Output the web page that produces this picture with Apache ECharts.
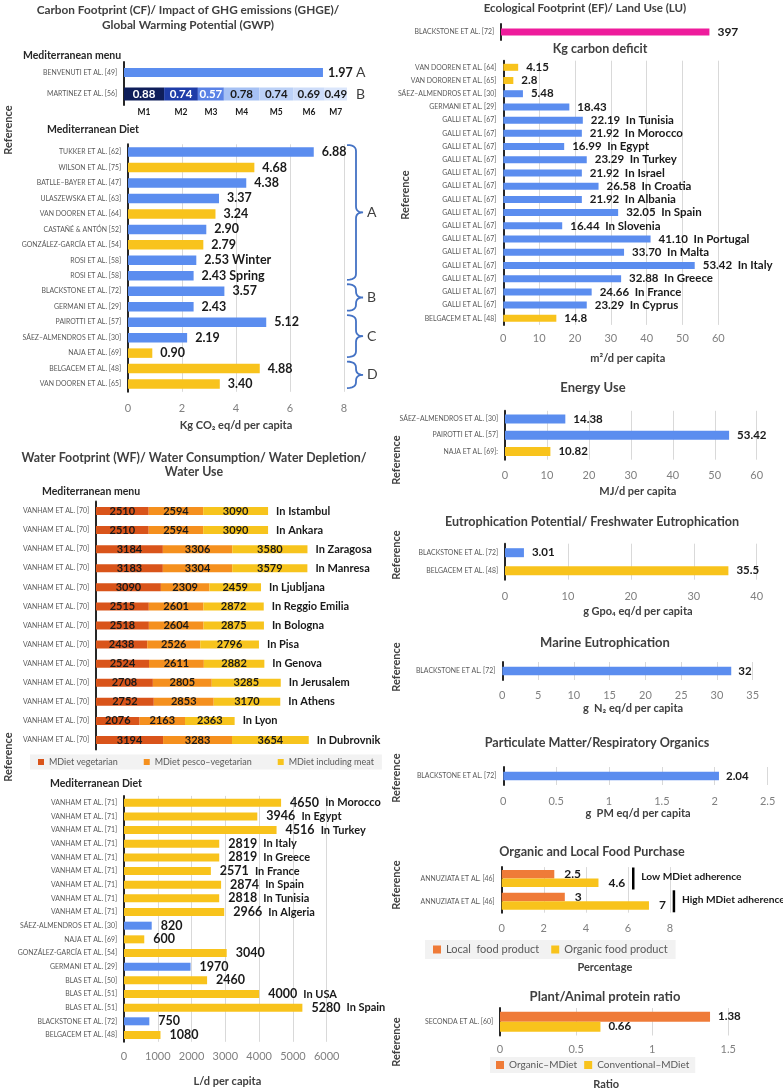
<!DOCTYPE html>
<html><head><meta charset="utf-8">
<script src="https://cdn.jsdelivr.net/npm/echarts@6/dist/echarts.min.js"></script>
<style>html,body{margin:0;padding:0;background:#fff}#c{width:783px;height:1091px}</style>
</head><body><div id="c"></div>
<script>
// ================= DATA =================
// Carbon footprint - Mediterranean menu
const cfMenuRefs = ['BENVENUTI ET AL. [49]'];
const cfMenuValues = ['1.97'];
const cfMenuGroup = ['A'];
const martinezRef = ['MARTINEZ ET AL. [56]'];
const martinezMenus = ['M1','M2','M3','M4','M5','M6','M7'];
const martinezValues = ['0.88','0.74','0.57','0.78','0.74','0.69','0.49'];
const martinezGroup = ['B'];
// Carbon footprint - Mediterranean diet
const cfDietRefs = ['TUKKER ET AL. [62]','WILSON ET AL. [75]','BATLLE–BAYER ET AL. [47]','ULASZEWSKA ET AL. [63]','VAN DOOREN ET AL. [64]','CASTAÑÉ & ANTÓN [52]','GONZÁLEZ-GARCÍA ET AL. [54]','ROSI ET AL. [58]','ROSI ET AL. [58]','BLACKSTONE ET AL. [72]','GERMANI ET AL. [29]','PAIROTTI ET AL. [57]','SÁEZ–ALMENDROS ET AL. [30]','NAJA ET AL. [69]','BELGACEM ET AL. [48]','VAN DOOREN ET AL. [65]'];
const cfDietValues = ['6.88','4.68','4.38','3.37','3.24','2.90','2.79','2.53','2.43','3.57','2.43','5.12','2.19','0.90','4.88','3.40'];
const cfDietNotes = ['','','','','','','','Winter','Spring','','','','','','',''];
const cfDietType = [1,2,1,1,2,1,2,1,1,1,1,1,1,2,2,2];
const cfDietGroups = ['A','A','A','A','A','A','A','A','A','B','B','C','C','C','D','D'];
const cfDietTicks = [0,2,4,6,8];
// Water footprint - Mediterranean menu
const wfMenuRefs = ['VANHAM ET AL. [70]','VANHAM ET AL. [70]','VANHAM ET AL. [70]','VANHAM ET AL. [70]','VANHAM ET AL. [70]','VANHAM ET AL. [70]','VANHAM ET AL. [70]','VANHAM ET AL. [70]','VANHAM ET AL. [70]','VANHAM ET AL. [70]','VANHAM ET AL. [70]','VANHAM ET AL. [70]','VANHAM ET AL. [70]'];
const wfMenuCities = ['In Istambul','In Ankara','In Zaragosa','In Manresa','In Ljubljana','In Reggio Emilia','In Bologna','In Pisa','In Genova','In Jerusalem','In Athens','In Lyon','In Dubrovnik'];
const wfVegetarian = [2510,2510,3184,3183,3090,2515,2518,2438,2524,2708,2752,2076,3194];
const wfPesco = [2594,2594,3306,3304,2309,2601,2604,2526,2611,2805,2853,2163,3283];
const wfMeat = [3090,3090,3580,3579,2459,2872,2875,2796,2882,3285,3170,2363,3654];
const wfMenuSeries = ['MDiet vegetarian','MDiet pesco–vegetarian','MDiet including meat'];
// Water footprint - Mediterranean diet
const wfDietRefs = ['VANHAM ET AL. [71]','VANHAM ET AL. [71]','VANHAM ET AL. [71]','VANHAM ET AL. [71]','VANHAM ET AL. [71]','VANHAM ET AL. [71]','VANHAM ET AL. [71]','VANHAM ET AL. [71]','VANHAM ET AL. [71]','SÁEZ-ALMENDROS ET AL. [30]','NAJA ET AL. [69]','GONZÁLEZ-GARCÍA ET AL. [54]','GERMANI ET AL. [29]','BLAS ET AL. [50]','BLAS ET AL. [51]','BLAS ET AL. [51]','BLACKSTONE ET AL. [72]','BELGACEM ET AL. [48]'];
const wfDietValues = [4650,3946,4516,2819,2819,2571,2874,2818,2966,820,600,3040,1970,2460,4000,5280,750,1080];
const wfDietNotes = ['In Morocco','In Egypt','In Turkey','In Italy','In Greece','In France','In Spain','In Tunisia','In Algeria','','','','','','In USA','In Spain','',''];
const wfDietType = [2,2,2,2,2,2,2,2,2,1,2,2,1,2,2,2,1,2];
const wfDietTicks = [0,1000,2000,3000,4000,5000,6000];
// Ecological footprint / land use
const efTopRefs = ['BLACKSTONE ET AL. [72]'];
const efTopValues = [397];
const efRefs = ['VAN DOOREN ET AL. [64]','VAN DOROREN ET AL. [65]','SÁEZ–ALMENDROS ET AL. [30]','GERMANI ET AL. [29]','GALLI ET AL. [67]','GALLI ET AL. [67]','GALLI ET AL. [67]','GALLI ET AL. [67]','GALLI ET AL. [67]','GALLI ET AL. [67]','GALLI ET AL. [67]','GALLI ET AL. [67]','GALLI ET AL. [67]','GALLI ET AL. [67]','GALLI ET AL. [67]','GALLI ET AL. [67]','GALLI ET AL. [67]','GALLI ET AL. [67]','GALLI ET AL. [67]','BELGACEM ET AL. [48]'];
const efValues = ['4.15','2.8','5.48','18.43','22.19','21.92','16.99','23.29','21.92','26.58','21.92','32.05','16.44','41.10','33.70','53.42','32.88','24.66','23.29','14.8'];
const efNotes = ['','','','','In Tunisia','In Morocco','In Egypt','In Turkey','In Israel','In Croatia','In Albania','In Spain','In Slovenia','In Portugal','In Malta','In Italy','In Greece','In France','In Cyprus',''];
const efType = [2,2,1,1,1,1,1,1,1,1,1,1,1,1,1,1,1,1,1,2];
const efTicks = [0,10,20,30,40,50,60];
// Energy use
const enRefs = ['SÁEZ–ALMENDROS ET AL. [30]','PAIROTTI ET AL. [57]','NAJA ET AL. [69]:'];
const enValues = [14.38,53.42,10.82];
const enType = [1,1,2];
const enTicks = [0,10,20,30,40,50,60];
// Eutrophication
const euRefs = ['BLACKSTONE ET AL. [72]','BELGACEM ET AL. [48]'];
const euValues = ['3.01','35.5'];
const euType = [1,2];
const euTicks = [0,10,20,30,40];
// Marine eutrophication
const meRefs = ['BLACKSTONE ET AL. [72]'];
const meValues = [32];
const meTicks = [0,5,10,15,20,25,30,35];
// Particulate matter
const pmRefs = ['BLACKSTONE ET AL. [72]'];
const pmValues = [2.04];
const pmTicks = [0,0.5,1,1.5,2,2.5];
// Organic and local food purchase
const orgRefs = ['ANNUZIATA ET AL. [46]','ANNUZIATA ET AL. [46]'];
const orgAdherence = ['Low MDiet adherence','High MDiet adherence'];
const orgSeries = ['Local  food product','Organic food product'];
const orgLocal = ['2.5','3'];
const orgOrganic = ['4.6','7'];
const orgTicks = [0,2,4,6,8];
// Plant / animal protein ratio
const ppRefs = ['SECONDA ET AL. [60]'];
const ppSeries = ['Organic–MDiet','Conventional–MDiet'];
const ppOrganic = ['1.38'];
const ppConventional = ['0.66'];
const ppTicks = [0,0.5,1,1.5];

// ================= STYLE / BUILD =================
const FONT = 'Lato, "Noto Sans", sans-serif';
const C = {blue:'#5b8def', yellow:'#f8c31c', orange:'#ef7b38', veg:'#d9541a', pesco:'#f5901e', meat:'#f7c41d', pink:'#ee1c9c',
  axis:'#262626', grid:'#d9d9d9', tick:'#808080', cat:'#595959', title:'#404040', label:'#1a1a1a', brace:'#4472c4'};
const typeColor = {1:C.blue, 2:C.yellow};
const mColors = ['#0f1e5a','#1e3ca8','#5a82e6','#a6c1f4','#bcd1f7','#cddcf9','#dbe6fb'];

const grids=[], xAxis=[], yAxis=[], series=[];
function panel(p){
  const gi = grids.length;
  grids.push({left:p.left, top:p.top, width:p.width, height:p.height});
  const t = p.ticks;
  const sh = p.nameShift || 0;
  xAxis.push({
    gridIndex:gi, type:'value', min:0, max: t ? t[t.length-1] : p.max, interval: t ? t[1]-t[0] : undefined,
    axisLine:{show:false}, axisTick:{show:false},
    axisLabel:{show:!!t, color:C.tick, fontSize:11, fontFamily:FONT, margin:p.tickMargin ?? 9, formatter: v => String(v)},
    splitLine:{show:!!t, lineStyle:{color:C.grid, width:1}},
    name:p.xName||'', nameLocation:'middle', nameGap:p.nameGap||0,
    nameTextStyle:{color:C.title, fontSize:p.nameSize||11, fontWeight:'bold', fontFamily:FONT,
      padding: sh>0 ? [0,0,0,2*sh] : (sh<0 ? [0,-2*sh,0,0] : 0)}
  });
  yAxis.push({gridIndex:gi, type:'category', inverse:true, data:p.cats,
    axisLine:{show:p.axisLine!==false, lineStyle:{color:C.axis, width:2}}, axisTick:{show:false},
    axisLabel:{show:p.cats.some(c=>c), interval:0, color:C.cat, fontSize:6.9, fontFamily:FONT, margin:7}
  });
  return gi;
}
function lbl(formatter, size, extra){
  return Object.assign({show:true, position:'right', distance:8, color:C.label, fontWeight:'bold', fontSize:size||12, fontFamily:FONT, formatter}, extra||{});
}
function richLbl(formatter, vSize, nSize, extra){
  return Object.assign(lbl(formatter, vSize), {rich:{
    v:{fontSize:vSize, fontWeight:'bold', fontFamily:FONT, color:C.label},
    n:{fontSize:nSize, fontWeight:'bold', fontFamily:FONT, color:C.label}}}, extra||{});
}
const colored = (vals, types) => vals.map((v,i)=>({value:+v, itemStyle:{color:typeColor[types[i]]}}));

// CF menu
const g0 = panel({cats:cfMenuRefs, left:124, top:62, width:202, height:21, max:2});
series.push({type:'bar', xAxisIndex:g0, yAxisIndex:g0, barWidth:9, data:cfMenuValues.map(Number), itemStyle:{color:C.blue},
  label:lbl(p=>cfMenuValues[p.dataIndex], 12.5, {distance:5})});
const g1 = panel({cats:martinezRef, left:124, top:83, width:228, height:22, max:5});
const g2 = panel({cats:[''], left:124, top:104, width:228, height:16, max:5, axisLine:false});
martinezMenus.forEach((m,i)=>{
  series.push({type:'bar', stack:'mar', xAxisIndex:g1, yAxisIndex:g1, barWidth:13, data:[+martinezValues[i]], itemStyle:{color:mColors[i]},
    label:lbl(martinezValues[i], 11.5, {position:'inside', color: i<3 ? '#ffffff' : C.label})});
  series.push({type:'bar', stack:'mlab', xAxisIndex:g2, yAxisIndex:g2, barWidth:10, data:[+martinezValues[i]], itemStyle:{color:'rgba(0,0,0,0)'},
    silent:true, label:lbl(m, 8.5, {position:'inside', color:C.label})});
});
// CF diet
const g3 = panel({cats:cfDietRefs, left:128, top:144.3, width:216, height:247.5, ticks:cfDietTicks,
  xName:'Kg CO₂ eq/d per capita', nameGap:27.7, tickMargin:10.7});
series.push({type:'bar', xAxisIndex:g3, yAxisIndex:g3, barWidth:9.5, data:colored(cfDietValues, cfDietType),
  label:lbl(p=>cfDietValues[p.dataIndex] + (cfDietNotes[p.dataIndex] ? ' ' + cfDietNotes[p.dataIndex] : ''), 12.5)});
// Water menu
const g4 = panel({cats:wfMenuRefs, left:96, top:501.5, width:294, height:248, max:14000});
[[wfMenuSeries[0], wfVegetarian, C.veg],[wfMenuSeries[1], wfPesco, C.pesco],[wfMenuSeries[2], wfMeat, C.meat]].forEach(([name, vals, col])=>{
  series.push({name, type:'bar', stack:'wf', xAxisIndex:g4, yAxisIndex:g4, barWidth:8, data:vals, itemStyle:{color:col},
    label:lbl('{c}', 11, {position:'inside'})});
});
series.push({type:'bar', stack:'wf', xAxisIndex:g4, yAxisIndex:g4, barWidth:8, silent:true, data:wfMenuCities.map(()=>0),
  itemStyle:{color:'rgba(0,0,0,0)'}, label:lbl(p=>wfMenuCities[p.dataIndex], 11, {distance:8})});
// Water diet
const g5 = panel({cats:wfDietRefs, left:124, top:795.9, width:202.7, height:245.9, ticks:wfDietTicks,
  xName:'L/d per capita', nameGap:33.7, tickMargin:8.7, nameShift:2});
series.push({type:'bar', xAxisIndex:g5, yAxisIndex:g5, barWidth:8, data:colored(wfDietValues, wfDietType),
  label:richLbl(p=>'{v|'+wfDietValues[p.dataIndex]+'}' + (wfDietNotes[p.dataIndex] ? '  {n|'+wfDietNotes[p.dataIndex]+'}' : ''), 12.5, 11, {distance:9})});
// EF top
const g6 = panel({cats:efTopRefs, left:501, top:24, width:210, height:16, max:400, xName:'Kg carbon deficit', nameGap:2.5, nameSize:12.5, nameShift:-6});
series.push({type:'bar', xAxisIndex:g6, yAxisIndex:g6, barWidth:7, data:efTopValues, itemStyle:{color:C.pink}, label:lbl('{c}', 12, {distance:8})});
// EF main
const g7 = panel({cats:efRefs, left:503.3, top:60.7, width:215, height:264.2, ticks:efTicks,
  xName:'m²/d per capita', nameGap:27.6, tickMargin:7.6, nameShift:17});
series.push({type:'bar', xAxisIndex:g7, yAxisIndex:g7, barWidth:7, data:colored(efValues, efType),
  label:richLbl(p=>'{v|'+efValues[p.dataIndex]+'}' + (efNotes[p.dataIndex] ? '  {n|'+efNotes[p.dataIndex]+'}' : ''), 11.5, 11.5, {distance:8})});
// Energy
const g8 = panel({cats:enRefs, left:505, top:410.8, width:251.7, height:48.9, ticks:enTicks,
  xName:'MJ/d per capita', nameGap:26.5, tickMargin:9.8, nameShift:7});
series.push({type:'bar', xAxisIndex:g8, yAxisIndex:g8, barWidth:9, data:colored(enValues, enType), label:lbl('{c}', 11.5, {distance:8})});
// Eutrophication
const g9 = panel({cats:euRefs, left:505, top:543.7, width:251.7, height:36, ticks:euTicks,
  xName:'g Gpo₄ eq/d per capita', nameGap:26.5, tickMargin:10.8, nameShift:7});
series.push({type:'bar', xAxisIndex:g9, yAxisIndex:g9, barWidth:9, data:colored(euValues, euType), label:lbl(p=>euValues[p.dataIndex], 11.5, {distance:8})});
// Marine
const g10 = panel({cats:meRefs, left:502.3, top:662, width:250.4, height:18, ticks:meTicks,
  xName:'g  N₂ eq/d per capita', nameGap:22.8, tickMargin:9.5, nameShift:5.5});
series.push({type:'bar', xAxisIndex:g10, yAxisIndex:g10, barWidth:8.5, data:meValues, itemStyle:{color:C.blue}, label:lbl('{c}', 11.5, {distance:7})});
// PM
const g11 = panel({cats:pmRefs, left:503.3, top:767, width:264.3, height:18, ticks:pmTicks,
  xName:'g  PM eq/d per capita', nameGap:22.8, tickMargin:11.2, nameShift:2.6});
series.push({type:'bar', xAxisIndex:g11, yAxisIndex:g11, barWidth:8.5, data:pmValues, itemStyle:{color:C.blue}, label:lbl('{c}', 11.5, {distance:7})});
// Organic / local
const g12 = panel({cats:orgRefs, left:501.7, top:867.1, width:168.3, height:45.6, ticks:orgTicks,
  xName:'Percentage', nameGap:49, tickMargin:10.1, nameShift:19});
series.push({name:orgSeries[0], type:'bar', xAxisIndex:g12, yAxisIndex:g12, barWidth:8.5, barGap:'0%', data:orgLocal.map(Number), itemStyle:{color:C.orange},
  label:lbl(p=>orgLocal[p.dataIndex], 12, {distance:10})});
series.push({name:orgSeries[1], type:'bar', xAxisIndex:g12, yAxisIndex:g12, barWidth:8.5, barGap:'0%', data:orgOrganic.map(Number), itemStyle:{color:C.yellow},
  label:lbl(p=>orgOrganic[p.dataIndex], 12, {distance:10})});
// Plant / animal
const g13 = panel({cats:ppRefs, left:500, top:1008, width:228.3, height:28, ticks:ppTicks,
  xName:'Ratio', nameGap:43.5, tickMargin:8.5, nameShift:-8});
series.push({name:ppSeries[0], type:'bar', xAxisIndex:g13, yAxisIndex:g13, barWidth:10, barGap:'0%', data:ppOrganic.map(Number), itemStyle:{color:C.orange},
  label:lbl(p=>ppOrganic[p.dataIndex], 11.5, {distance:8})});
series.push({name:ppSeries[1], type:'bar', xAxisIndex:g13, yAxisIndex:g13, barWidth:10, barGap:'0%', data:ppConventional.map(Number), itemStyle:{color:C.yellow},
  label:lbl(p=>ppConventional[p.dataIndex], 11.5, {distance:8})});

const legendBase = {icon:'rect', selectedMode:false, backgroundColor:'#f2f2f2', orient:'horizontal'};
const option = {
  backgroundColor:'#ffffff', animation:false,
  grid:grids, xAxis, yAxis, series,
  legend:[
    Object.assign({}, legendBase, {data:wfMenuSeries, left:30, top:754.5, itemWidth:6, itemHeight:6, itemGap:26, padding:[3,8],
      textStyle:{fontSize:9, color:C.cat, fontFamily:FONT}}),
    Object.assign({}, legendBase, {data:orgSeries, left:425, top:940, itemWidth:8, itemHeight:8, itemGap:12, padding:[4,8],
      textStyle:{fontSize:11, color:C.cat, fontFamily:FONT}}),
    Object.assign({}, legendBase, {data:ppSeries, left:490, top:1057, itemWidth:8, itemHeight:8, itemGap:7, padding:[3,6],
      textStyle:{fontSize:10, color:C.cat, fontFamily:FONT}})
  ]
};
const chart = echarts.init(document.getElementById('c'), null, {renderer:'canvas'});
chart.setOption(option);

// ================= ANNOTATIONS =================
const G = [];
function txt(text, x, y, o){
  o = o || {};
  G.push({type:'text', x, y, rotation:o.rot||0, silent:true, z:100,
    style:{text, fill:o.color||C.title, font:(o.weight||'bold')+' '+(o.size||13)+'px '+FONT,
      align:o.align||'left', verticalAlign:o.va||'middle', lineHeight:o.lh||undefined}});
}
// titles
txt('Carbon Footprint (CF)/ Impact of GHG emissions (GHGE)/\nGlobal Warming Potential (GWP)', 188, 17.5, {align:'center', lh:15, size:11.8});
txt('Water Footprint (WF)/ Water Consumption/ Water Depletion/\nWater Use', 194, 465, {align:'center', lh:14, size:12.4});
txt('Ecological Footprint (EF)/ Land Use (LU)', 585, 8, {align:'center', size:11.5});
txt('Energy Use', 593, 388, {align:'center'});
txt('Eutrophication Potential/ Freshwater Eutrophication', 592, 522, {align:'center', size:12.6});
txt('Marine Eutrophication', 605, 643, {align:'center'});
txt('Particulate Matter/Respiratory Organics', 597, 743, {align:'center', size:12.6});
txt('Organic and Local Food Purchase', 592, 852, {align:'center', size:12.6});
txt('Plant/Animal protein ratio', 605, 997, {align:'center'});
// sub headings
txt('Mediterranean menu', 23, 56, {size:10.5, color:C.axis});
txt('Mediterranean Diet', 47, 130, {size:10.5, color:C.axis});
txt('Mediterranean menu', 42, 492, {size:10.5, color:C.axis});
txt('Mediterranean Diet', 50, 784, {size:10.5, color:C.axis});
// Reference labels
[[8,130],[8,757],[405,195],[396,460],[396,555],[396,667],[396,778],[396,885],[396,1042]].forEach(([x,y])=>
  txt('Reference', x, y, {rot:Math.PI/2, align:'center', size:11}));

const px = (ax, v) => chart.convertToPixel({xAxisIndex:ax}, v);
const py = (ax, i) => chart.convertToPixel({yAxisIndex:ax}, i);
// group letters for menu
txt(cfMenuGroup[0], 356, py(g0,0), {weight:'normal', size:14});
txt(martinezGroup[0], 356, py(g1,0), {weight:'normal', size:14});
// braces for diet groups (drawn as polylines)
function quad(p0, c, p1, n){
  const pts = [];
  for (let k = 1; k <= n; k++){
    const t = k / n, a = (1-t)*(1-t), b = 2*(1-t)*t, d = t*t;
    pts.push([a*p0[0] + b*c[0] + d*p1[0], a*p0[1] + b*c[1] + d*p1[1]]);
  }
  return pts;
}
const x0 = px(g3, cfDietTicks[cfDietTicks.length-1]) + 3, x1 = x0 + 9, x2 = x0 + 16, r = 6;
const groupsSeen = [];
cfDietGroups.forEach(g => { if (!groupsSeen.includes(g)) groupsSeen.push(g); });
groupsSeen.forEach(g => {
  const first = cfDietGroups.indexOf(g), last = cfDietGroups.lastIndexOf(g);
  const y1 = py(g3, first) - 7, y2 = py(g3, last) + 4, ym = (y1 + y2) / 2;
  let pts = [[x0, y1]];
  pts = pts.concat(quad([x0,y1],[x1,y1],[x1,y1+r],6));
  pts.push([x1, ym-r]);
  pts = pts.concat(quad([x1,ym-r],[x1,ym],[x2,ym],6));
  pts = pts.concat(quad([x2,ym],[x1,ym],[x1,ym+r],6));
  pts.push([x1, y2-r]);
  pts = pts.concat(quad([x1,y2-r],[x1,y2],[x0,y2],6));
  G.push({type:'polyline', silent:true, z:100, shape:{points:pts}, style:{stroke:C.brace, lineWidth:1.8, fill:null}});
  txt(g, x2 + 4, ym, {weight:'normal', size:14});
});
// adherence annotations
const ctx = document.createElement('canvas').getContext('2d');
ctx.font = 'bold 12px ' + FONT;
orgAdherence.forEach((name, i) => {
  const yc = py(g12, i);
  const lx = px(g12, +orgOrganic[i]) + 10 + ctx.measureText(orgOrganic[i]).width + 8;
  G.push({type:'line', silent:true, z:100, shape:{x1:lx, y1:yc-11, x2:lx, y2:yc+11}, style:{stroke:'#000', lineWidth:2.5}});
  txt(name, lx + 8, yc - 2, {size:10.2, color:C.label});
});
chart.setOption({graphic:G});
</script>
</body></html>
